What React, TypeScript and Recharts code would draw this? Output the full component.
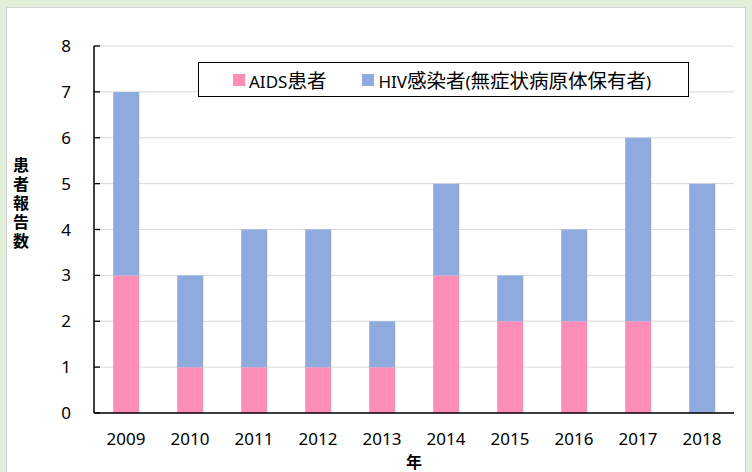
import React from 'react';
import { BarChart, Bar, XAxis, YAxis, CartesianGrid, Legend } from 'recharts';

const years = ['2009', '2010', '2011', '2012', '2013', '2014', '2015', '2016', '2017', '2018'];
const aidsCases = [3, 1, 1, 1, 1, 3, 2, 2, 2, 0];
const hivCases = [4, 2, 3, 3, 1, 2, 1, 2, 4, 5];
const yTicks = [0, 1, 2, 3, 4, 5, 6, 7, 8];
const boundaryTicks = [1, 2, 3, 4, 5, 6, 7, 8, 9];
const yTitle = '患者報告数';
const xTitle = '年';

const data = years.map((y, i) => ({ year: y, aids: aidsCases[i], hiv: hivCases[i] }));

const PINK = '#ff8db8';
const BLUE = '#8eaadf';
const FONT = '"Noto Sans", "Noto Sans CJK JP", sans-serif';

const splitRuns = (s: string) => {
  const runs: { t: string; cjk: boolean }[] = [];
  for (const ch of s) {
    const cjk = /[\u3000-\u9fff\uff00-\uffef]/.test(ch);
    const last = runs[runs.length - 1];
    if (last && last.cjk === cjk) last.t += ch;
    else runs.push({ t: ch, cjk });
  }
  return runs;
};

const LegendBox = (props: any) => {
  const payload = props.payload || [];
  return (
    <div
      style={{
        width: 489,
        height: 33,
        border: '1.3px solid #000',
        background: '#fff',
        display: 'flex',
        alignItems: 'center',
        fontFamily: FONT,
        color: '#000',
        boxSizing: 'content-box',
        whiteSpace: 'nowrap',
      }}
    >
      {payload.map((p: any, i: number) => (
        <div key={i} style={{ display: 'flex', alignItems: 'center', marginLeft: i === 0 ? 34 : 36 }}>
          <span style={{ display: 'inline-block', width: 12, height: 12, background: p.color, marginRight: 4 }} />
          <span>
            {splitRuns(String(p.value)).map((r, j) => (
              <span key={j} style={{ fontSize: r.cjk ? 19.5 : 17 }}>{r.t}</span>
            ))}
          </span>
        </div>
      ))}
    </div>
  );
};

export default function App() {
  return (
    <div style={{ position: 'absolute', left: 0, top: 0, width: 752, height: 472, background: '#e2efd9', overflow: 'hidden' }}>
      <div
        style={{
          position: 'absolute',
          left: 6,
          top: 7,
          width: 738,
          height: 470,
          background: '#fff',
          border: '1px solid #d4d4d4',
        }}
      />
      <div style={{ position: 'absolute', left: 0, top: 0 }}>
        <BarChart
          width={752}
          height={472}
          data={data}
          margin={{ top: 46, right: 18, bottom: 29, left: 34 }}
          barCategoryGap="30%"
        >
          <CartesianGrid horizontal vertical={false} stroke="#d9d9d9" />
          <XAxis
            dataKey="year"
            height={30}
            tickLine={false}
            axisLine={{ stroke: '#000', strokeWidth: 1.5 }}
            tickMargin={14}
            tick={{ fill: '#000', fontSize: 17, fontFamily: FONT }}
            interval={0}
          />
          <XAxis
            xAxisId="bounds"
            type="number"
            domain={[0, 10]}
            allowDataOverflow
            ticks={boundaryTicks}
            interval={0}
            height={0}
            tick={false}
            tickSize={-6}
            axisLine={false}
            tickLine={{ stroke: '#000', strokeWidth: 1.3 }}
          />
          <XAxis
            xAxisId="top"
            orientation="top"
            height={0}
            tick={false}
            tickLine={false}
            axisLine={{ stroke: '#000', strokeWidth: 1.5 }}
          />
          <YAxis
            width={60}
            domain={[0, 8]}
            ticks={yTicks}
            interval={0}
            tickSize={-6}
            tickMargin={29}
            tickLine={{ stroke: '#000', strokeWidth: 1.3 }}
            axisLine={{ stroke: '#000', strokeWidth: 1.5 }}
            tick={{ fill: '#000', fontSize: 17, fontFamily: FONT }}
          />
          <YAxis
            yAxisId="right"
            orientation="right"
            width={0}
            domain={[0, 8]}
            tick={false}
            tickLine={false}
            axisLine={{ stroke: '#000', strokeWidth: 1.5 }}
          />
          <Legend
            verticalAlign="middle"
            align="center"
            layout="horizontal"
            content={<LegendBox />}
            wrapperStyle={{ position: 'absolute', left: 198, top: 62, width: 491, height: 35 }}
          />
          <Bar dataKey="aids" name="AIDS患者" stackId="a" fill={PINK} isAnimationActive={false} />
          <Bar dataKey="hiv" name="HIV感染者(無症状病原体保有者)" stackId="a" fill={BLUE} isAnimationActive={false} />
        </BarChart>
      </div>
      <div
        style={{
          position: 'absolute',
          left: 12,
          top: 157,
          width: 18,
          writingMode: 'vertical-rl',
          textOrientation: 'upright',
          letterSpacing: '3px',
          fontFamily: '"Noto Sans CJK JP", sans-serif',
          fontWeight: 'bold',
          fontSize: 16,
          lineHeight: '18px',
          color: '#000',
        }}
      >
        {yTitle}
      </div>
      <div
        style={{
          position: 'absolute',
          left: 405,
          top: 451,
          width: 18,
          fontFamily: '"Noto Sans CJK JP", sans-serif',
          fontWeight: 'bold',
          fontSize: 16,
          lineHeight: '20px',
          textAlign: 'center',
          color: '#000',
        }}
      >
        {xTitle}
      </div>
    </div>
  );
}
